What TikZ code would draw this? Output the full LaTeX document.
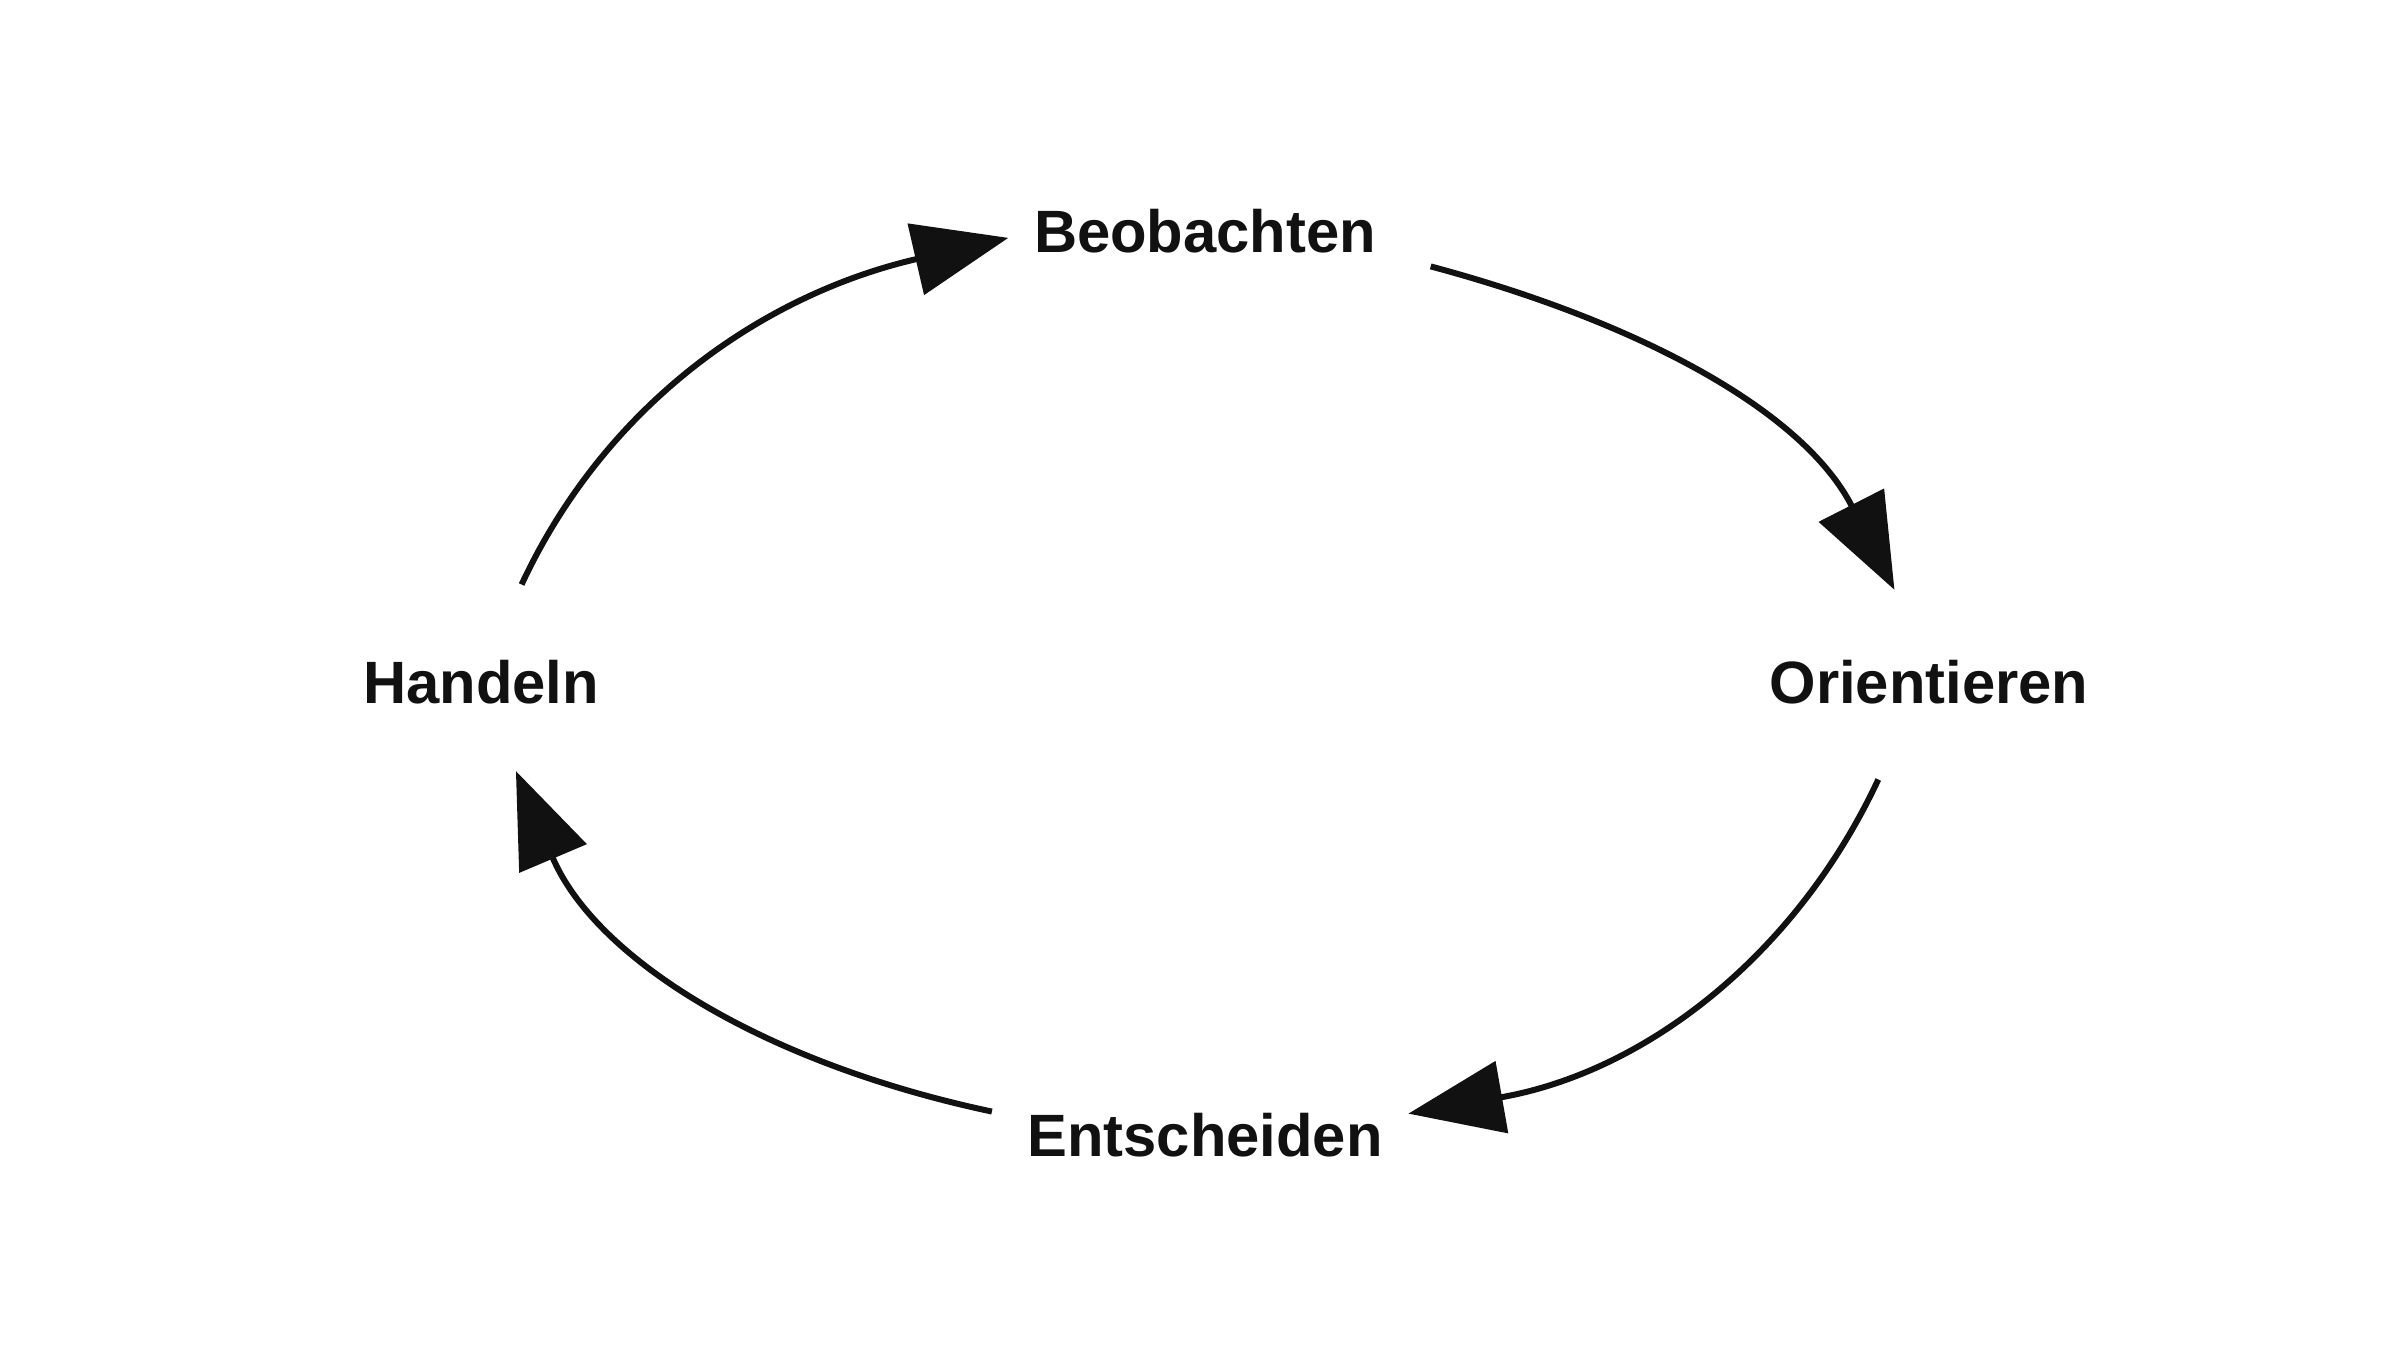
\documentclass[tikz,border=0pt]{standalone}
\usepackage{fontspec}
\setmainfont{Liberation Sans}
\usetikzlibrary{arrows.meta, positioning}
\definecolor{oodaink}{HTML}{111111}

\begin{document}
\begin{tikzpicture}[
    phase/.style={
        rectangle,
        inner sep=0.25cm,
        text=oodaink,
        font=\fontsize{17}{21}\selectfont\bfseries
    },
    flow/.style={
        -{Triangle[length=0.95cm, width=0.72cm]},
        line width=1.7pt,
        oodaink
    }
]

% Frame
\useasboundingbox (0,0) rectangle (24,13.5);

% Phases
\node[phase] (beo) at (12.05,11.19) {Beobachten};
\node[phase] (ori) at (19.29,6.68) {Orientieren};
\node[phase] (ent) at (12.05,2.15) {Entscheiden};
\node[phase] (han) at (4.81,6.68) {Handeln};

% Loop
\draw[flow, shorten <=0.3cm, shorten >=0.5cm] (beo.-8) to[out=-15, in=117] (ori.104);
\draw[flow, shorten <=0.55cm] (ori.-120) to[out=-115, in=10] (ent.6);
\draw[flow, shorten <=0.1cm, shorten >=0.45cm] (ent.174) to[out=168, in=-67] (han.-70);
\draw[flow, shorten <=0.55cm] (han.70) to[out=65, in=193] (beo.182);

\end{tikzpicture}
\end{document}
